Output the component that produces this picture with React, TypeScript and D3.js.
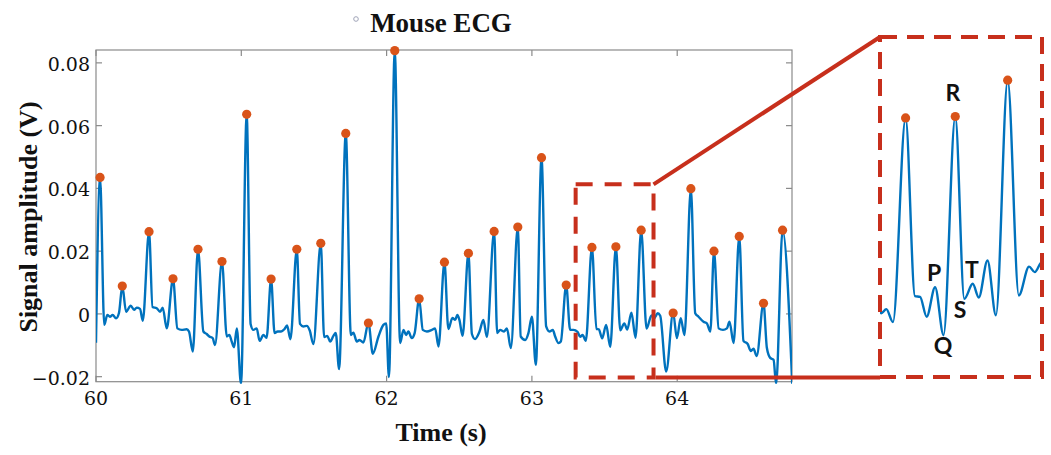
import React, { useMemo } from "react";
import * as d3 from "d3";

const WIDTH = 1051;
const HEIGHT = 455;

// ECG trace: time (s) and amplitude (V)
const signalTime = [
  60.0, 60.028, 60.057, 60.078, 60.096, 60.115, 60.138, 60.158, 60.181, 60.207,
  60.239, 60.262, 60.28, 60.303, 60.322, 60.365, 60.389, 60.418, 60.441, 60.459,
  60.487, 60.53, 60.56, 60.59, 60.624, 60.64, 60.666, 60.702, 60.739, 60.762,
  60.78, 60.803, 60.819, 60.867, 60.9, 60.918, 60.934, 60.95, 60.969, 60.998,
  61.037, 61.064, 61.083, 61.106, 61.126, 61.152, 61.174, 61.205, 61.229, 61.25,
  61.274, 61.296, 61.315, 61.338, 61.382, 61.404, 61.427, 61.451, 61.471, 61.496,
  61.547, 61.57, 61.592, 61.611, 61.634, 61.65, 61.673, 61.719, 61.754, 61.771,
  61.795, 61.813, 61.84, 61.875, 61.905, 61.944, 61.978, 61.997, 62.016, 62.056,
  62.093, 62.116, 62.134, 62.15, 62.173, 62.193, 62.224, 62.249, 62.277, 62.311,
  62.334, 62.357, 62.398, 62.425, 62.453, 62.472, 62.487, 62.501, 62.523, 62.563,
  62.587, 62.609, 62.639, 62.666, 62.69, 62.74, 62.761, 62.781, 62.809, 62.828,
  62.855, 62.903, 62.923, 62.954, 62.976, 63.0, 63.027, 63.066, 63.098, 63.121,
  63.144, 63.16, 63.183, 63.199, 63.236, 63.263, 63.286, 63.314, 63.332, 63.349,
  63.371, 63.413, 63.444, 63.461, 63.483, 63.511, 63.539, 63.578, 63.608, 63.636,
  63.656, 63.685, 63.713, 63.752, 63.789, 63.823, 63.842, 63.866, 63.883, 63.924,
  63.972, 63.998, 64.024, 64.05, 64.094, 64.124, 64.147, 64.181, 64.204, 64.228,
  64.253, 64.285, 64.315, 64.342, 64.36, 64.388, 64.427, 64.456, 64.485, 64.507,
  64.525, 64.547, 64.594, 64.617, 64.64, 64.663, 64.681, 64.725, 64.792,
];
const signalValue = [
  -0.0092, 0.0435, -0.0035, -0.0003, -0.0009, -0.0003, -0.0014, 0.0003, 0.0089, 0.0007,
  0.0026, 0.0013, 0.002, 0.0016, -0.0022, 0.0262, 0.0022, 0.0018, 0.0007, 0.002,
  -0.0046, 0.0112, -0.0046, -0.0051, -0.0049, -0.0056, -0.012, 0.0206, -0.0056, -0.0064,
  -0.0072, -0.0077, -0.0099, 0.0167, -0.0072, -0.0067, -0.0088, -0.0106, -0.0046, -0.0223,
  0.0636, -0.0032, -0.0051, -0.0046, -0.0086, -0.0067, -0.0076, 0.0111, -0.0061, -0.0056,
  -0.0056, -0.0049, -0.0037, -0.0081, 0.0206, -0.0032, -0.004, -0.0038, -0.0053, -0.0096,
  0.0225, -0.0074, -0.007, -0.0088, -0.007, -0.0061, -0.0176, 0.0575, -0.0067, -0.006,
  -0.0088, -0.0083, -0.0091, -0.0029, -0.0127, -0.0072, -0.0035, -0.003, -0.0201, 0.0839,
  -0.0093, -0.0051, -0.0067, -0.0056, -0.0077, -0.0061, 0.0048, -0.0051, -0.0056, -0.0051,
  -0.0046, -0.0104, 0.0165, -0.0048, -0.0013, -0.0019, -0.0003, -0.0019, -0.007, 0.0193,
  -0.0064, -0.008, -0.0057, -0.0019, -0.0073, 0.0263, -0.0061, -0.0051, -0.0056, -0.0046,
  -0.0109, 0.0277, -0.0072, -0.0083, -0.0061, -0.0009, -0.0162, 0.0498, -0.004, -0.0056,
  -0.0051, -0.0072, -0.0093, -0.0088, 0.0092, -0.0051, -0.0051, -0.0057, -0.0073, -0.0067,
  -0.0086, 0.0212, -0.0048, -0.0049, -0.0078, -0.0035, -0.0105, 0.0214, -0.0052, -0.003,
  -0.005, 0.0004, -0.0076, 0.0267, -0.0047, -0.0005, -0.0013, 0.0002, -0.0006, -0.0184,
  0.0003, -0.0077, -0.0014, -0.0067, 0.0399, 0.0002, -0.0009, -0.0025, -0.003, -0.0056,
  0.02, -0.0046, -0.0051, -0.0046, -0.0025, -0.0093, 0.0247, -0.0086, -0.0096, -0.0118,
  -0.0111, -0.0134, 0.0034, -0.0108, -0.014, -0.0146, -0.0223, 0.0267, -0.0229,
];

// detected R peaks (orange dots)
const peakTime = [
  60.028, 60.181, 60.365, 60.53, 60.702, 60.867, 61.037, 61.205, 61.382, 61.547,
  61.719, 61.875, 62.056, 62.224, 62.398, 62.563, 62.74, 62.903, 63.066, 63.236,
  63.413, 63.578, 63.752, 63.972, 64.094, 64.253, 64.427, 64.594, 64.725,
];
const peakValue = [
  0.0435, 0.0089, 0.0262, 0.0112, 0.0206, 0.0167, 0.0636, 0.0111, 0.0206, 0.0225,
  0.0575, -0.0029, 0.0839, 0.0048, 0.0165, 0.0193, 0.0263, 0.0277, 0.0498, 0.0092,
  0.0212, 0.0214, 0.0267, 0.0003, 0.0399, 0.02, 0.0247, 0.0034, 0.0267,
];

const xTicks = [60, 61, 62, 63, 64];
const yTicks = [-0.02, 0, 0.02, 0.04, 0.06, 0.08];

// zoomed window shown in the right panel
const zoomTime = [63.301, 63.837];
const zoomValue = [-0.0203, 0.0413];
const insetTime = [63.328, 63.866];
const insetValue = [-0.0166, 0.033];

const waveLabels = ["R", "P", "T", "S", "Q"];

const BLUE = "#0072bd";
const ORANGE = "#d95319";
const RED = "#c72f1c";
const AXIS = "#8a8a8a";

const plot = { left: 96, right: 792, top: 50, bottom: 381.7 };
const inset = { left: 880, right: 1042, top: 37, bottom: 377 };
const labelPos = [
  [953, 101],
  [934, 281],
  [972, 278],
  [960, 318],
  [943, 354],
];

const App = () => {
  const x = d3.scaleLinear().domain([60, 64.79]).range([plot.left, plot.right]);
  const y = d3.scaleLinear().domain([-0.0216, 0.0841]).range([plot.bottom, plot.top]);
  const ix = d3.scaleLinear().domain(insetTime).range([inset.left, inset.right]);
  const iy = d3.scaleLinear().domain(insetValue).range([inset.bottom, inset.top]);

  const points = useMemo(() => signalTime.map((t, i) => [t, signalValue[i]]), []);

  const mainPath = d3
    .line<number[]>()
    .x((d) => x(d[0]))
    .y((d) => y(d[1]))
    .curve(d3.curveMonotoneX)(points);

  const insetPath = d3
    .line<number[]>()
    .x((d) => ix(d[0]))
    .y((d) => iy(d[1]))
    .curve(d3.curveMonotoneX)(points);

  const fmt = (v: number) => (v === 0 ? "0" : d3.format(".2f")(v).replace("-", "\u2212"));

  const bx0 = x(zoomTime[0]);
  const bx1 = x(zoomTime[1]);
  const by0 = y(zoomValue[1]);
  const by1 = y(zoomValue[0]);

  const serif = "'Liberation Serif', serif";

  return (
    <svg
      width={WIDTH}
      height={HEIGHT}
      style={{ position: "absolute", left: 0, top: 0, background: "white" }}
    >
      <defs>
        <clipPath id="plotClip">
          <rect x={plot.left} y={plot.top - 2} width={plot.right - plot.left} height={plot.bottom - plot.top + 4} />
        </clipPath>
        <clipPath id="insetClip">
          <rect x={inset.left} y={inset.top} width={inset.right - inset.left} height={inset.bottom - inset.top} />
        </clipPath>
      </defs>

      {/* title */}
      <circle cx={356} cy={19} r={2.3} fill="none" stroke="#a0a4b8" strokeWidth={1} />
      <text x={441} y={32} textAnchor="middle" fontFamily={serif} fontWeight="bold" fontSize={27} fill="#111">
        Mouse ECG
      </text>

      {/* axes box */}
      <rect
        x={plot.left}
        y={plot.top}
        width={plot.right - plot.left}
        height={plot.bottom - plot.top}
        fill="none"
        stroke={AXIS}
        strokeWidth={1.2}
      />
      {xTicks.map((t) => (
        <g key={t}>
          <line x1={x(t)} x2={x(t)} y1={plot.bottom} y2={plot.bottom - 6} stroke={AXIS} strokeWidth={1.2} />
          <line x1={x(t)} x2={x(t)} y1={plot.top} y2={plot.top + 6} stroke={AXIS} strokeWidth={1.2} />
          <text x={x(t)} y={405} textAnchor="middle" fontFamily="'DejaVu Serif', serif" fontSize={19} fill="#111">
            {t}
          </text>
        </g>
      ))}
      {yTicks.map((v) => (
        <g key={v}>
          <line x1={plot.left} x2={plot.left + 6} y1={y(v)} y2={y(v)} stroke={AXIS} strokeWidth={1.2} />
          <line x1={plot.right} x2={plot.right - 6} y1={y(v)} y2={y(v)} stroke={AXIS} strokeWidth={1.2} />
          <text x={90} y={y(v) + 8} textAnchor="end" fontFamily="'DejaVu Serif', serif" fontSize={19} fill="#111">
            {fmt(v)}
          </text>
        </g>
      ))}
      <text x={441} y={441} textAnchor="middle" fontFamily={serif} fontWeight="bold" fontSize={26} fill="#111">
        Time (s)
      </text>
      <text
        transform="translate(37,217) rotate(-90)"
        textAnchor="middle"
        fontFamily={serif}
        fontWeight="bold"
        fontSize={26}
        fill="#111"
      >
        Signal amplitude (V)
      </text>

      {/* signal */}
      <path
        d={mainPath ?? ""}
        fill="none"
        stroke={BLUE}
        strokeWidth={2.4}
        strokeLinejoin="round"
        clipPath="url(#plotClip)"
      />
      {peakTime.map((t, i) => (
        <circle key={i} cx={x(t)} cy={y(peakValue[i])} r={4.6} fill={ORANGE} />
      ))}

      {/* inset */}
      <path
        d={insetPath ?? ""}
        fill="none"
        stroke={BLUE}
        strokeWidth={2.4}
        strokeLinejoin="round"
        clipPath="url(#insetClip)"
      />
      {peakTime
        .map((t, i) => [t, peakValue[i]])
        .filter((d) => d[0] > insetTime[0] && d[0] < insetTime[1])
        .map((d, i) => (
          <circle key={i} cx={ix(d[0])} cy={iy(d[1])} r={4.6} fill={ORANGE} />
        ))}
      {waveLabels.map((l, i) => (
        <text
          key={l}
          x={labelPos[i][0]}
          y={labelPos[i][1]}
          textAnchor="middle"
          fontFamily="Lato, 'Open Sans', sans-serif"
          fontWeight="bold"
          fontSize={23}
          fill="#111"
        >
          {l}
        </text>
      ))}

      {/* zoom callout */}
      <rect
        x={bx0}
        y={by0}
        width={bx1 - bx0}
        height={by1 - by0}
        fill="none"
        stroke={RED}
        strokeWidth={4}
        strokeDasharray="17 12"
      />
      <rect
        x={inset.left}
        y={inset.top}
        width={inset.right - inset.left}
        height={inset.bottom - inset.top}
        fill="none"
        stroke={RED}
        strokeWidth={4}
        strokeDasharray="17 10"
      />
      <line x1={bx1} y1={by0} x2={inset.left} y2={inset.top} stroke={RED} strokeWidth={4} />
      <line x1={bx1 + 2} y1={by1} x2={inset.left} y2={by1} stroke={RED} strokeWidth={4} />
    </svg>
  );
};

export default App;
